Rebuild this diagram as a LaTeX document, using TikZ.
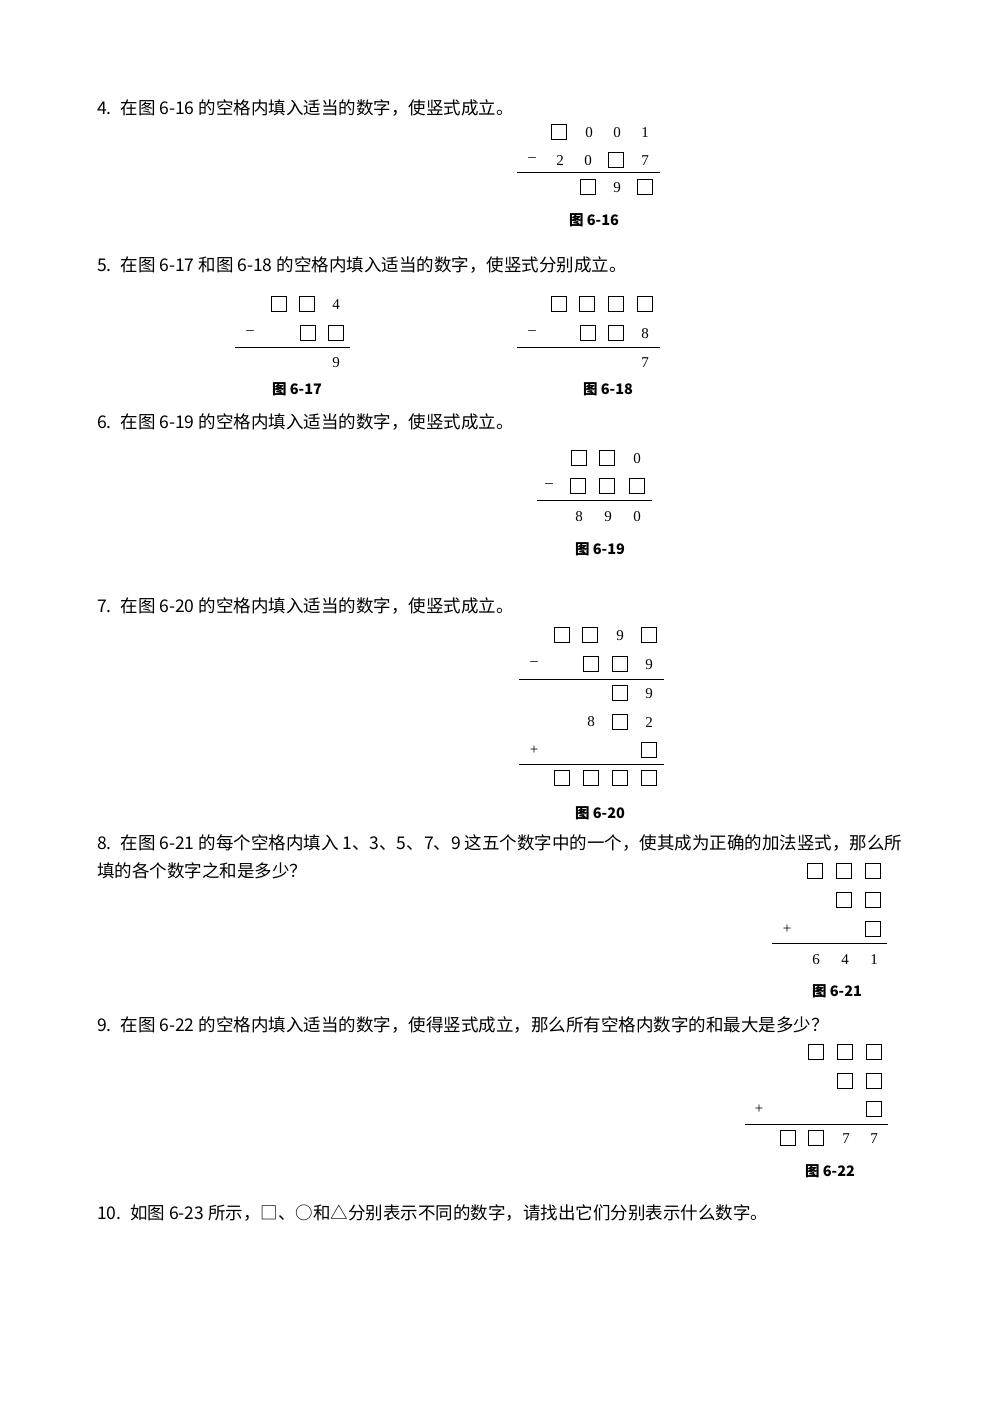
\documentclass[tikz,border=0pt]{standalone}
\usepackage{fontspec}
\setmainfont{Liberation Serif}
\newfontfamily\cjk{Noto Sans CJK SC}
\tikzset{x=1pt,y=-1pt,
 txt/.style={anchor=west,inner sep=0pt,font=\cjk\fontsize{17.5}{20}\selectfont},
 dgt/.style={inner sep=0pt,font=\fontsize{15}{16}\selectfont},
 bxs/.style={draw,line width=1pt,minimum size=14.5pt,inner sep=0pt},
 capt/.style={inner sep=0pt,font=\cjk\fontsize{14.5}{16}\selectfont\bfseries},
 rl/.style={line width=1pt}}
\newcommand{\B}[2]{\node[bxs] at (#1,#2) {};}
\newcommand{\D}[3]{\node[dgt] at (#1,#2) {#3};}
\newcommand{\Rl}[3]{\draw[rl] (#1,#3) -- (#2,#3);}
\begin{document}
\begin{tikzpicture}
\useasboundingbox (0,0) rectangle (1000,1415);
\fill[white] (0,0) rectangle (1000,1415);
\node[txt] (p4) at (97,108) {4.\enspace 在图 6-16 的空格内填入适当的数字，使竖式成立。};
\B{559}{132}\D{589}{133}{0}\D{617}{133}{0}\D{645}{133}{1}
\D{532}{160}{–}\D{560}{161}{2}\D{588}{161}{0}\B{616}{160}\D{645}{161}{7}
\Rl{517}{660}{173}
\B{588}{187}\D{617}{188}{9}\B{645}{187}
\node[capt] (c16) at (594,220) {图 6-16};
\node[txt] (p5) at (97,265) {5.\enspace 在图 6-17 和图 6-18 的空格内填入适当的数字，使竖式分别成立。};
\B{279}{304}\B{307}{304}\D{336}{305}{4}
\D{250}{333}{–}\B{308}{333}\B{336}{333}
\Rl{235}{350}{347}
\D{336}{363}{9}
\node[capt] (c17) at (297,389) {图 6-17};
\B{559}{304}\B{587}{304}\B{616}{304}\B{645}{304}
\D{532}{333}{–}\B{588}{333}\B{616}{333}\D{645}{334}{8}
\Rl{517}{660}{347}
\D{645}{363}{7}
\node[capt] (c18) at (608,389) {图 6-18};
\node[txt] (p6) at (97,422) {6.\enspace 在图 6-19 的空格内填入适当的数字，使竖式成立。};
\B{579}{458}\B{607}{458}\D{637}{459}{0}
\D{549}{486}{–}\B{578}{486}\B{607}{486}\B{637}{486}
\Rl{537}{652}{500}
\D{579}{517}{8}\D{608}{517}{9}\D{637}{517}{0}
\node[capt] (c19) at (600,549) {图 6-19};
\node[txt] (p7) at (97,606) {7.\enspace 在图 6-20 的空格内填入适当的数字，使竖式成立。};
\B{562}{635}\B{590}{635}\D{620}{636}{9}\B{649}{635}
\D{534}{664}{–}\B{591}{664}\B{620}{664}\D{649}{665}{9}
\Rl{519}{664}{679}
\B{620}{693}\D{649}{694}{9}
\D{591}{722}{8}\B{620}{722}\D{649}{723}{2}
\D{534}{750}{+}\B{649}{750}
\Rl{519}{664}{764}
\B{562}{778}\B{591}{778}\B{620}{778}\B{649}{778}
\node[capt] (c20) at (600,813) {图 6-20};
\node[txt] (p8) at (97,843) {8.\enspace 在图 6-21 的每个空格内填入 1、3、5、7、9 这五个数字中的一个，使其成为正确的加法竖式，那么所};
\node[txt] (p8b) at (97,871) {填的各个数字之和是多少？};
\B{815}{871}\B{844}{871}\B{873}{871}
\B{844}{900}\B{873}{900}
\D{787}{929}{+}\B{873}{929}
\Rl{772}{887}{943}
\D{816}{960}{6}\D{845}{960}{4}\D{874}{960}{1}
\node[capt] (c21) at (837,991) {图 6-21};
\node[txt] (p9) at (97,1025) {9.\enspace 在图 6-22 的空格内填入适当的数字，使得竖式成立，那么所有空格内数字的和最大是多少？};
\B{816}{1052}\B{845}{1052}\B{874}{1052}
\B{845}{1081}\B{874}{1081}
\D{759}{1109}{+}\B{874}{1109}
\Rl{745}{888}{1124}
\B{788}{1138}\B{816}{1138}\D{846}{1139}{7}\D{874}{1139}{7}
\node[capt] (c22) at (830,1171) {图 6-22};
\node[txt] (p10) at (97,1213) {10.\enspace 如图 6-23 所示，□、○和△分别表示不同的数字，请找出它们分别表示什么数字。};
\end{tikzpicture}
\end{document}
